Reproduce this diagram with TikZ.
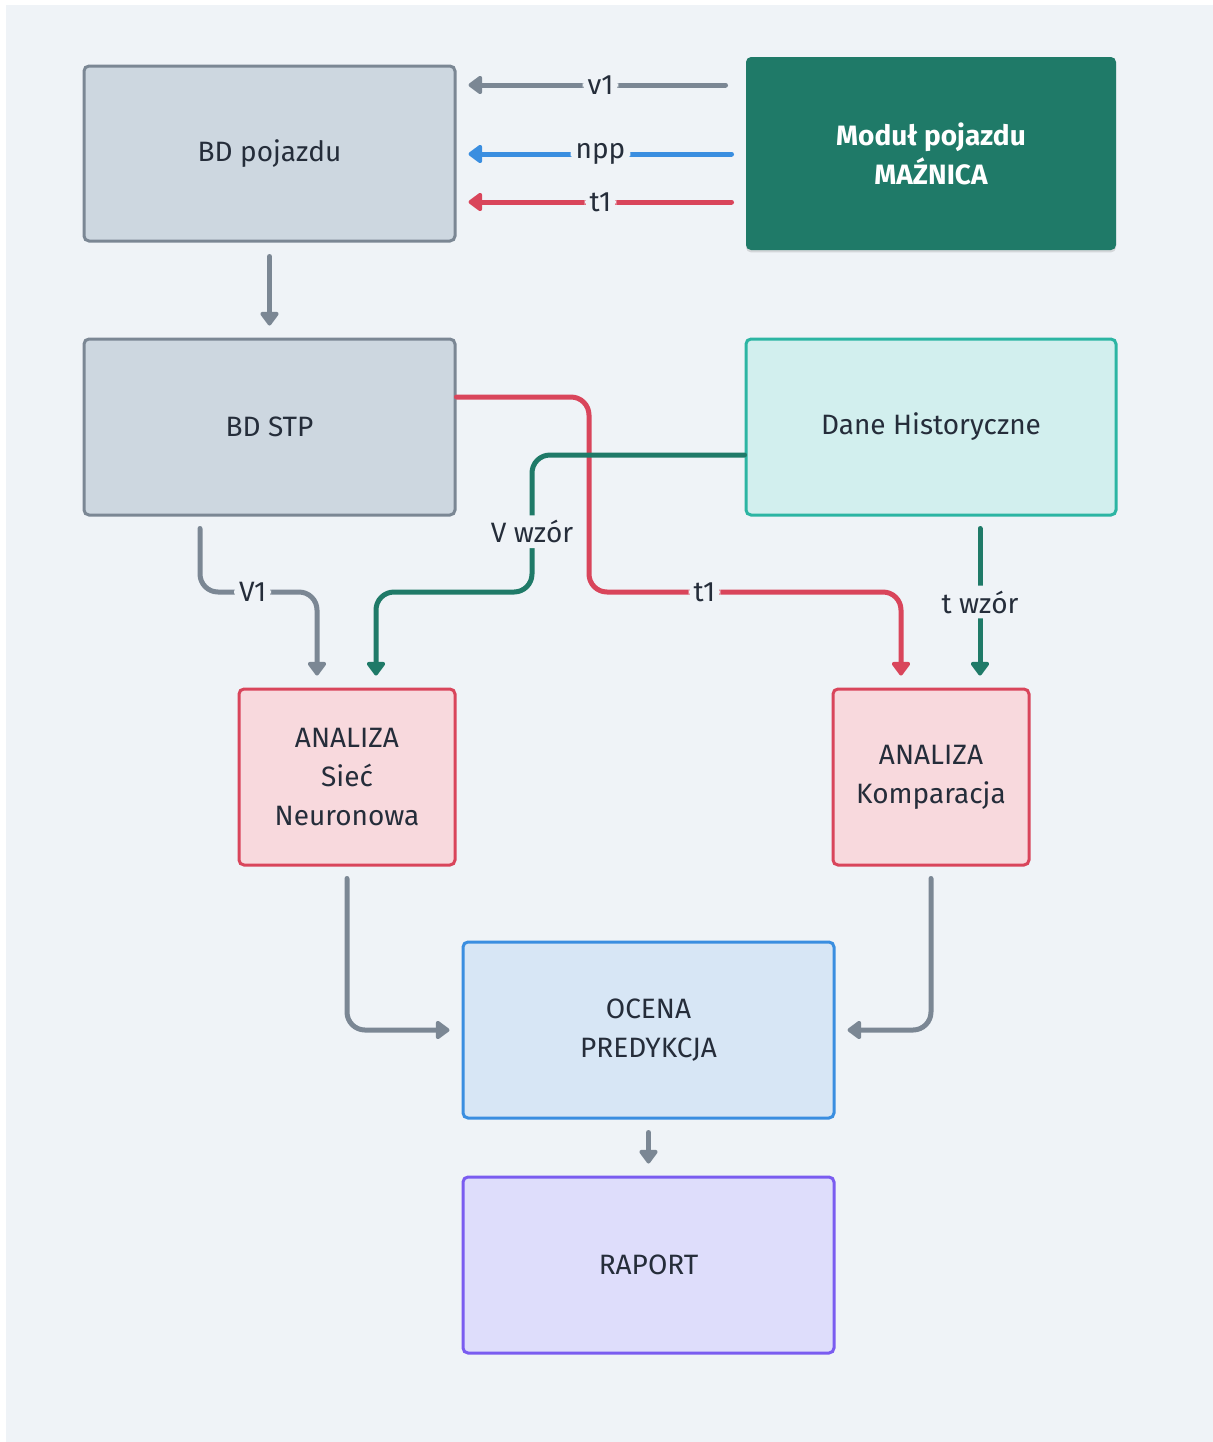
\documentclass[tikz,border=0pt]{standalone}
\usepackage{fontspec}
\setmainfont{Fira Sans}
\usetikzlibrary{arrows.meta,shadows}
\definecolor{bg}{HTML}{EFF3F7}
\definecolor{ink}{HTML}{252D3A}
\definecolor{slatefill}{HTML}{CDD7E0}
\definecolor{slate}{HTML}{7B8794}
\definecolor{teal}{HTML}{1F7A68}
\definecolor{aquafill}{HTML}{D2EFEE}
\definecolor{aqua}{HTML}{2CB5A3}
\definecolor{rosefill}{HTML}{F8D9DD}
\definecolor{rose}{HTML}{D9455B}
\definecolor{skyfill}{HTML}{D7E6F5}
\definecolor{sky}{HTML}{3A8EE0}
\definecolor{violetfill}{HTML}{DEDDFB}
\definecolor{violet}{HTML}{7A5CF0}
\begin{document}
\begin{tikzpicture}[x=0.5pt,y=-0.5pt,
  box/.style={draw, line width=1.5pt, rounded corners=2.5pt, align=center,
    text=ink, font=\fontsize{14}{19.5}\selectfont, inner sep=0pt},
  graybox/.style={box, draw=slate, fill=slatefill},
  pinkbox/.style={box, draw=rose, fill=rosefill},
  conn/.style={line width=2.5pt, line cap=round, rounded corners=9pt},
  tip/.style={-{Triangle[width=10.5pt,length=7.5pt,round]}},
  lbl/.style={fill=bg, text=ink, font=\fontsize{14}{16}\selectfont, inner sep=2.5pt},
]
% canvas
\fill[white] (0,0) rectangle (1213,1442);
\fill[bg] (6,5) rectangle (1213,1442);

% boxes
\node[graybox, minimum width=185.5pt, minimum height=87.5pt] (bdp) at (269.5,153.5) {BD pojazdu};
\node[box, draw=none, fill=teal, text=white, font=\fontsize{14}{19.5}\selectfont\bfseries,
  drop shadow={shadow xshift=0pt, shadow yshift=-1.2pt, opacity=0.25},
  minimum width=185pt, minimum height=96.5pt] (mod) at (931,153.5) {Moduł pojazdu\\MAŹNICA};
\node[graybox, minimum width=185.5pt, minimum height=88pt] (stp) at (269.5,427) {BD STP};
\node[box, draw=aqua, fill=aquafill, minimum width=185pt, minimum height=88pt] (dane) at (931,427) {Dane Historyczne};
\node[pinkbox, minimum width=108pt, minimum height=88pt] (asiec) at (347,777) {ANALIZA\\Sieć\\Neuronowa};
\node[pinkbox, minimum width=98pt, minimum height=88pt] (akomp) at (931,777) {ANALIZA\\Komparacja};
\node[box, draw=sky, fill=skyfill, minimum width=185.5pt, minimum height=88pt] (ocena) at (648.5,1030) {OCENA\\PREDYKCJA};
\node[box, draw=violet, fill=violetfill, minimum width=185.5pt, minimum height=88pt] (raport) at (648.5,1265) {RAPORT};

% module -> vehicle database
\draw[conn, slate, tip, shorten <=9.5pt, shorten >=6pt] (mod.west |- 0,85) -- node[lbl]{v1} (bdp.east |- 0,85);
\draw[conn, sky, tip, shorten <=6.5pt, shorten >=6pt] (mod.west |- 0,154) -- node[lbl]{npp} (bdp.east |- 0,154);
\draw[conn, rose, tip, shorten <=6.5pt, shorten >=6pt] (mod.west |- 0,202) -- node[lbl]{t1} (bdp.east |- 0,202);

% vehicle database -> STP
\draw[conn, slate, tip, shorten <=7pt, shorten >=6pt] (bdp.south) -- (stp.north);

% STP -> comparison (t1)
\draw[conn, rose, tip, shorten >=6pt] (stp.east |- 0,397) -- (589,397) -- (589,592)
  -- node[lbl, pos=0.37]{t1} (901,592) -- (901,0 |- akomp.north);

% STP -> neural network (V1)
\draw[conn, slate, tip, shorten <=6pt, shorten >=6pt] (200,0 |- stp.south) -- (200,592)
  -- node[lbl, pos=0.45]{V1} (317,592) -- (317,0 |- asiec.north);

% history -> neural network (V wzór)
\draw[conn, teal, tip, shorten >=6pt] (dane.west |- 0,455) -- (532,455)
  -- node[lbl, pos=0.56]{V wzór} (532,592) -- (376,592) -- (376,0 |- asiec.north);

% history -> comparison (t wzór)
\draw[conn, teal, tip, shorten <=6pt, shorten >=6pt] (980,0 |- dane.south)
  -- node[lbl]{t wzór} (980,0 |- akomp.north);

% analyses -> assessment
\draw[conn, slate, tip, shorten <=6pt, shorten >=6pt] (asiec.south) -- (asiec.south |- ocena.west) -- (ocena.west);
\draw[conn, slate, tip, shorten <=6pt, shorten >=6pt] (akomp.south) -- (akomp.south |- ocena.east) -- (ocena.east);

% assessment -> report
\draw[conn, slate, tip, shorten <=6.5pt, shorten >=6pt] (ocena.south) -- (raport.north);
\end{tikzpicture}
\end{document}
